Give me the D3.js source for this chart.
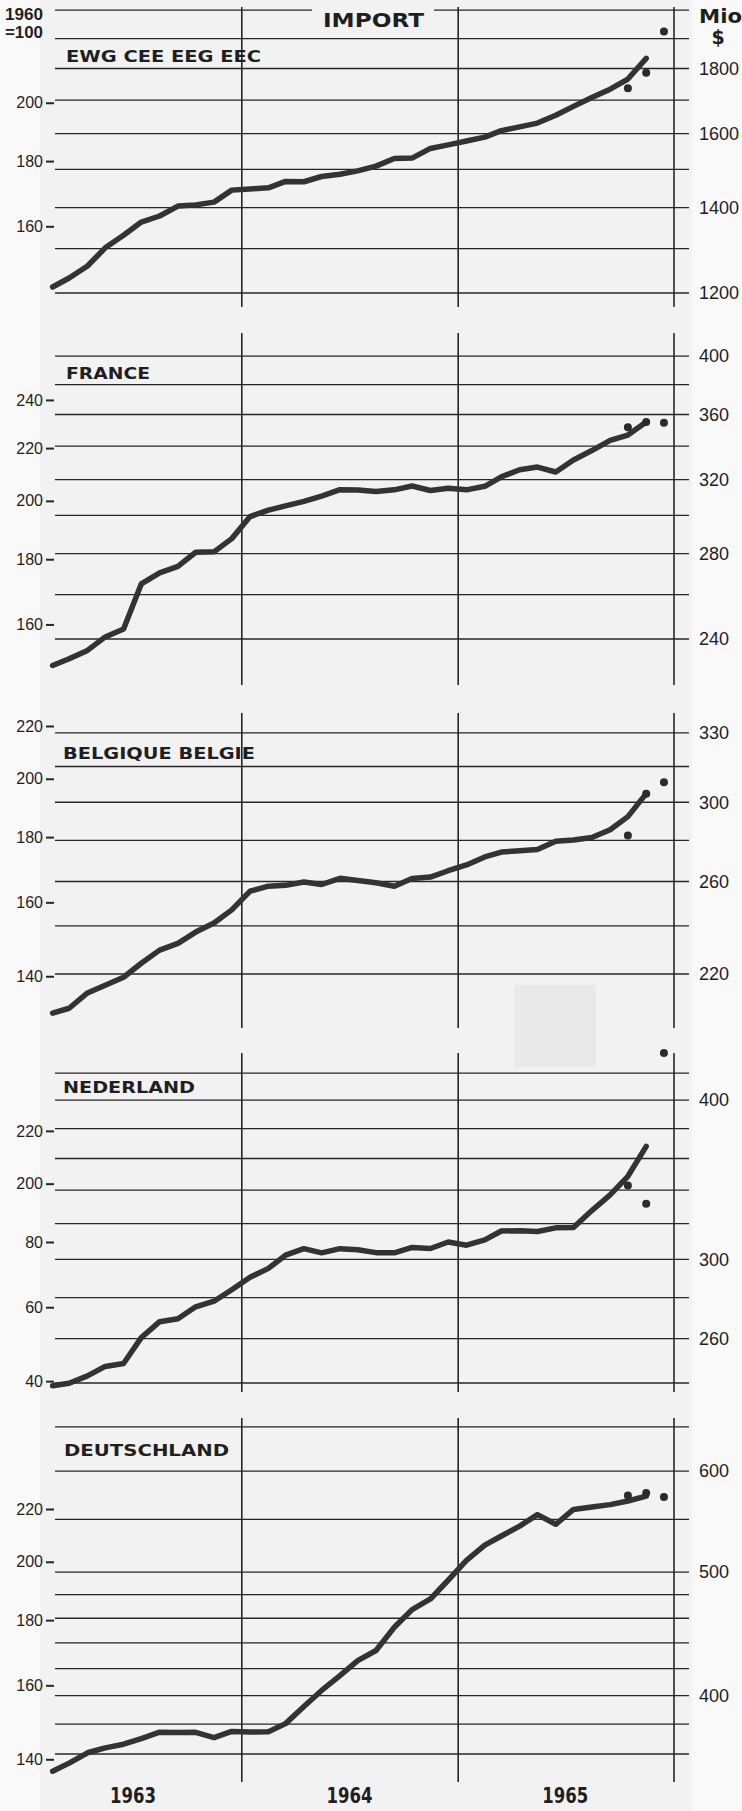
<!DOCTYPE html>
<html>
<head>
<meta charset="utf-8">
<script src="https://cdn.jsdelivr.net/npm/d3@7"></script>
<style>
  body { margin: 0; background: #f8f8f8; }
  svg text { fill: #1f1f1f; }
</style>
</head>
<body>
<div id="chart"></div>
<script>
// Imports, Mio $ (smoothed line), Feb 1963 .. Nov 1965
const ewg = [1213, 1233, 1260, 1302, 1332, 1364, 1379, 1404, 1407, 1414, 1445, 1448, 1451, 1468, 1467, 1481, 1487,
  1496, 1509, 1530, 1531, 1558, 1568, 1579, 1590, 1609, 1620, 1631, 1654, 1681, 1708, 1734, 1766, 1833];
const france = [228.8, 231.6, 235.1, 240.9, 244.4, 265.1, 270.4, 273.6, 280.7, 280.9, 287.7, 299.4, 302.9, 305.2,
  307.7, 310.7, 314.3, 314.1, 313.3, 314.2, 316.4, 313.8, 315.1, 314.2, 316.2, 321.7, 325.8, 327.4, 324.5, 331.6,
  337.3, 343.5, 346.9, 355.1];
const belgique = [205.0, 206.8, 212.6, 215.6, 218.7, 224.3, 229.7, 232.5, 237.3, 241.2, 247.0, 255.5, 257.8, 258.2,
  259.8, 258.6, 261.5, 260.5, 259.4, 257.8, 261.4, 262.1, 265.1, 267.9, 271.8, 274.2, 274.8, 275.5, 279.6, 280.2,
  281.5, 285.5, 292.3, 304.7];
const nederland = [238.8, 239.9, 243.1, 247.3, 248.6, 260.5, 268.1, 269.5, 275.4, 278.2, 284.0, 290.5, 295.2, 302.3,
  305.9, 303.6, 305.9, 305.3, 303.7, 303.6, 306.6, 306.0, 309.6, 307.8, 310.8, 315.8, 316.0, 315.5, 317.6, 317.8,
  327.7, 337.1, 348.6, 368.0];
const deutschland = [349.0, 354.1, 360.8, 364.0, 366.4, 370.2, 374.5, 374.2, 374.4, 370.8, 375.0, 374.6, 374.8, 380.3,
  392.3, 403.8, 414.7, 426.1, 434.0, 452.6, 467.2, 476.3, 492.7, 510.6, 524.9, 533.7, 543.3, 554.7, 545.1, 559.9,
  562.3, 564.8, 568.5, 573.5];

// single months Oct, Nov, Dec 1965 (dots)
const ewgDots = [1737, 1786, 1924];
const franceDots = [351.8, 355.1, 354.7];
const belgiqueDots = [282.5, 304.7, 311.0];
const nederlandDots = [342.9, 331.8, 435.6];
const deutschlandDots = [574.1, 576.9, 572.7];

// horizontal rulings (Mio $)
const ewgGrid = [1200, 1300, 1400, 1500, 1600, 1700, 1800, 1900, 2000];
const franceGrid = [240, 260, 280, 300, 320, 340, 360, 380, 400];
const belgiqueGrid = [220, 240, 260, 280, 300, 320, 340];
const nederlandGrid = [240, 260, 280, 300, 320, 340, 360, 380, 400, 420];
const deutschlandGrid = [360, 380, 400, 420, 440, 460, 480, 500, 550, 600, 650];

// right axis (Mio $)
const ewgRight = [1200, 1400, 1600, 1800];
const franceRight = [240, 280, 320, 360, 400];
const belgiqueRight = [220, 260, 300, 340];
const belgiqueRightLabels = ["220", "260", "300", "330"];
const nederlandRight = [260, 300, 400];
const deutschlandRight = [400, 500, 600];

// left axis (index 1960 = 100) and monthly 1960 base in Mio $
const ewgLeft = [160, 180, 200];
const franceLeft = [160, 180, 200, 220, 240];
const belgiqueLeft = [140, 160, 180, 200, 220];
const nederlandLeft = [140, 160, 180, 200, 220];
const nederlandLeftLabels = ["40", "60", "80", "200", "220"];
const deutschlandLeft = [140, 160, 180, 200, 220];
const bases = [846, 154, 156.5, 172, 254.7];

const names = ["EWG CEE EEG EEC", "FRANCE", "BELGIQUE BELGIE", "NEDERLAND", "DEUTSCHLAND"];
const years = [1963, 1964, 1965];

const panels = [
  {name: names[0], values: ewg, dots: ewgDots, grid: ewgGrid, right: ewgRight, left: ewgLeft, base: bases[0]},
  {name: names[1], values: france, dots: franceDots, grid: franceGrid, right: franceRight, left: franceLeft, base: bases[1]},
  {name: names[2], values: belgique, dots: belgiqueDots, grid: belgiqueGrid, right: belgiqueRight,
    rightLabels: belgiqueRightLabels, left: belgiqueLeft, base: bases[2]},
  {name: names[3], values: nederland, dots: nederlandDots, grid: nederlandGrid, right: nederlandRight,
    left: nederlandLeft, leftLabels: nederlandLeftLabels, base: bases[3]},
  {name: names[4], values: deutschland, dots: deutschlandDots, grid: deutschlandGrid, right: deutschlandRight,
    left: deutschlandLeft, base: bases[4]}
];

// layout (pixels)
const width = 742, height = 1811;
const gridLeft = 55, gridRight = 689;
const pxPerDecade = 1275;
const layout = [
  {bottom: 293, vTop: 7, vBottom: 307, labelX: 66, labelY: 62, labelW: 195},
  {bottom: 639, vTop: 333, vBottom: 685, labelX: 66, labelY: 379, labelW: 84},
  {bottom: 974, vTop: 713, vBottom: 1028, labelX: 63, labelY: 759, labelW: 192},
  {bottom: 1383, vTop: 1053, vBottom: 1392, labelX: 63, labelY: 1093, labelW: 132},
  {bottom: 1754, vTop: 1418, vBottom: 1782, labelX: 64, labelY: 1456, labelW: 165}
];

const ink = "#262626";

const svg = d3.create("svg")
  .attr("width", width)
  .attr("height", height);

// paper
svg.append("rect").attr("width", width).attr("height", height).attr("fill", "#f9f9f9");
svg.append("rect").attr("x", 40).attr("width", 652).attr("height", height).attr("fill", "#f2f2f2");
svg.append("rect").attr("x", 514).attr("y", 985).attr("width", 82).attr("height", 82).attr("fill", "#e9e9e9");

const x = d3.scaleTime()
  .domain([new Date(1963, 0, 1), new Date(1966, 0, 1)])
  .range([26, 674]);
const monthDate = i => new Date(1963, 1 + i, 15);   // index 0 = Feb 1963
const dotDate = i => new Date(1965, 9 + i, 15);     // Oct, Nov, Dec 1965

panels.forEach((p, k) => {
  const L = layout[k];
  const lo = d3.min(p.grid), hi = d3.max(p.grid);
  const y = d3.scaleLog()
    .domain([lo, hi])
    .range([L.bottom, L.bottom - pxPerDecade * Math.log10(hi / lo)]);
  const yIndex = d3.scaleLog()
    .domain(y.domain().map(v => v * 100 / p.base))
    .range(y.range());

  const g = svg.append("g");

  // horizontal rulings
  g.selectAll("line.h")
    .data(p.grid)
    .join("line")
    .attr("class", "h")
    .attr("x1", gridLeft).attr("x2", gridRight)
    .attr("y1", d => y(d)).attr("y2", d => y(d))
    .attr("stroke", ink).attr("stroke-width", 1.3);

  // year rulings
  g.selectAll("line.v")
    .data([1964, 1965, 1966])
    .join("line")
    .attr("class", "v")
    .attr("x1", d => x(new Date(d, 0, 1))).attr("x2", d => x(new Date(d, 0, 1)))
    .attr("y1", L.vTop).attr("y2", L.vBottom)
    .attr("stroke", ink).attr("stroke-width", 1.6);

  // left index axis
  const la = g.append("g")
    .attr("transform", `translate(${gridLeft - 1},0)`)
    .call(d3.axisLeft(yIndex)
      .tickValues(p.left)
      .tickFormat((d, i) => p.leftLabels ? p.leftLabels[i] : d)
      .tickSize(8).tickPadding(3));
  la.select(".domain").remove();
  la.selectAll("line").attr("stroke", ink).attr("stroke-width", 2);
  la.selectAll("text")
    .attr("font-family", "Liberation Sans, Arial, sans-serif")
    .attr("font-size", 16)
    .attr("fill", "#1f1f1f");

  // right $ axis
  const ra = g.append("g")
    .attr("transform", `translate(${gridRight},0)`)
    .call(d3.axisRight(y)
      .tickValues(p.right)
      .tickFormat((d, i) => p.rightLabels ? p.rightLabels[i] : d)
      .tickSize(0).tickPadding(10));
  ra.select(".domain").remove();
  ra.selectAll("text")
    .attr("font-family", "Liberation Sans, Arial, sans-serif")
    .attr("font-size", 18)
    .attr("fill", "#1f1f1f");

  // series line
  const line = d3.line()
    .x((d, i) => x(monthDate(i)))
    .y(d => y(d));
  g.append("path")
    .datum(p.values)
    .attr("d", line)
    .attr("fill", "none")
    .attr("stroke", "#333")
    .attr("stroke-width", 5.5)
    .attr("stroke-linejoin", "round")
    .attr("stroke-linecap", "round");

  // latest single months
  g.selectAll("circle")
    .data(p.dots)
    .join("circle")
    .attr("cx", (d, i) => x(dotDate(i)))
    .attr("cy", d => y(d))
    .attr("r", 4)
    .attr("fill", "#2b2b2b");

  // panel name
  g.append("text")
    .attr("x", L.labelX).attr("y", L.labelY)
    .attr("font-family", "DejaVu Sans, sans-serif")
    .attr("font-weight", "bold").attr("font-size", 16.5)
    .attr("textLength", L.labelW).attr("lengthAdjust", "spacingAndGlyphs")
    .text(p.name);
});

// title, with a gap in the top ruling
svg.append("rect").attr("x", 312).attr("y", 4).attr("width", 122).attr("height", 20).attr("fill", "#f2f2f2");
svg.append("text")
  .attr("x", 323).attr("y", 27)
  .attr("font-family", "DejaVu Sans, sans-serif")
  .attr("font-weight", "bold").attr("font-size", 20)
  .attr("textLength", 101).attr("lengthAdjust", "spacingAndGlyphs")
  .text("IMPORT");

// left unit
svg.append("text")
  .attr("x", 5).attr("y", 20)
  .attr("font-family", "Liberation Sans, Arial, sans-serif")
  .attr("font-weight", "bold").attr("font-size", 16)
  .attr("textLength", 38).attr("lengthAdjust", "spacingAndGlyphs")
  .text("1960");
svg.append("text")
  .attr("x", 5).attr("y", 38)
  .attr("font-family", "Liberation Sans, Arial, sans-serif")
  .attr("font-weight", "bold").attr("font-size", 16)
  .attr("textLength", 38).attr("lengthAdjust", "spacingAndGlyphs")
  .text("=100");

// right unit
svg.append("text")
  .attr("x", 699).attr("y", 23)
  .attr("font-family", "DejaVu Sans, sans-serif")
  .attr("font-weight", "bold").attr("font-size", 19)
  .attr("textLength", 43).attr("lengthAdjust", "spacingAndGlyphs")
  .text("Mio");
svg.append("text")
  .attr("x", 718).attr("y", 44)
  .attr("text-anchor", "middle")
  .attr("font-family", "DejaVu Sans, sans-serif")
  .attr("font-weight", "bold").attr("font-size", 19)
  .text("$");

// year labels
svg.selectAll("text.year")
  .data(years)
  .join("text")
  .attr("class", "year")
  .attr("x", d => x(new Date(d, 6, 1)) - 23)
  .attr("y", 1803)
  .attr("font-family", "DejaVu Sans, sans-serif")
  .attr("font-weight", "bold").attr("font-size", 22)
  .attr("textLength", 46).attr("lengthAdjust", "spacingAndGlyphs")
  .text(d => d);

document.getElementById("chart").appendChild(svg.node());
</script>
</body>
</html>
